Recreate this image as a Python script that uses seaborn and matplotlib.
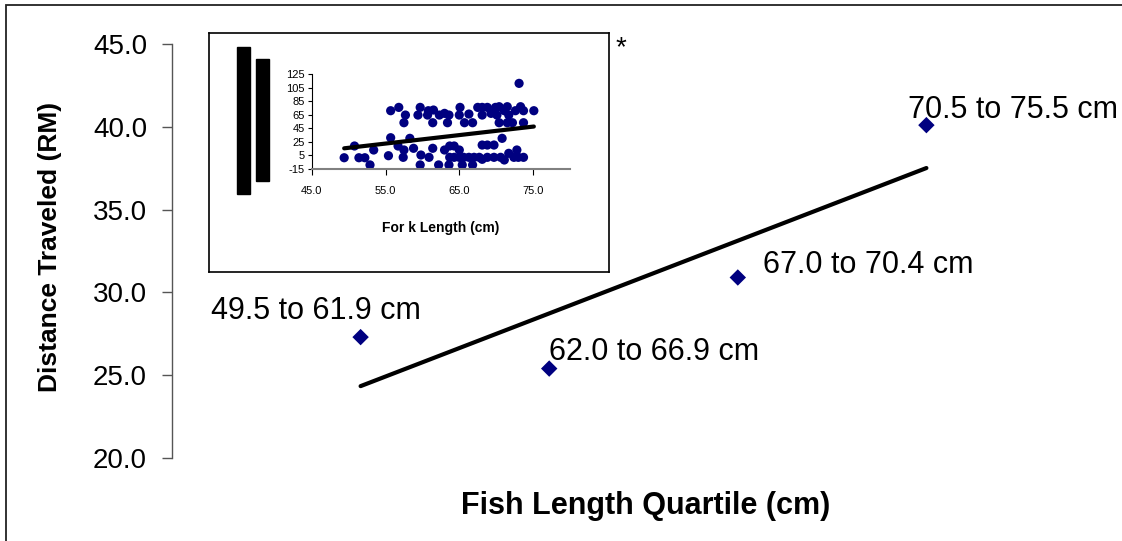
import numpy as np
import pandas as pd
import matplotlib
matplotlib.use("Agg")
import matplotlib.pyplot as plt
from matplotlib.patches import Rectangle
import seaborn as sns

# Mean distance traveled per fish-length quartile
quartile_pos = [1, 2, 3, 4]
quartile_labels = ["49.5 to 61.9 cm", "62.0 to 66.9 cm", "67.0 to 70.4 cm", "70.5 to 75.5 cm"]
mean_distance = [27.3, 25.4, 30.9, 40.1]

# Individual fish: fork length (cm) and distance traveled (RM)
fork_length = [
    49.4, 50.8, 51.4, 52.2, 52.9, 53.4, 55.4, 55.7, 55.7, 56.7, 56.8, 57.4, 57.5,
    57.5, 57.7, 58.3, 58.8, 59.4, 59.7, 59.7, 59.8, 60.7, 60.8, 60.9, 61.4, 61.4,
    61.5, 62.2, 62.3, 63.0, 63.6, 63.4, 63.0, 63.7, 64.3, 65.0, 63.7, 64.3, 65.0,
    65.6, 66.3, 67.0, 67.7, 68.8, 63.6, 65.4, 66.8, 65.1, 65.0, 66.3, 65.7, 66.8,
    67.5, 68.1, 68.8, 68.1, 69.3, 69.9, 68.1, 68.8, 69.7, 68.1, 69.7, 70.4, 71.5,
    73.3, 71.1, 72.6, 73.7, 75.1, 70.1, 71.7, 70.4, 71.5, 72.2, 73.7, 70.8, 73.1,
    70.6, 71.1, 71.7, 72.4, 72.8, 73.0, 73.7,
]
distance = [
    1.6, 18.9, 1.6, 1.6, -9.0, 13.0, 4.6, 70.9, 31.1, 18.9, 75.8, 2.2, 13.0,
    53.2, 64.5, 30.2, 15.5, 64.5, 75.8, -9.0, 5.6, 64.5, 70.9, 2.2, 53.2, 15.5,
    71.9, -9.0, 64.5, 67.0, 64.5, 53.2, 13.0, 18.9, 18.9, 13.0, 2.2, 2.2, 2.2,
    2.2, 2.2, 2.2, 2.2, 2.2, -9.0, -9.0, -9.0, 75.8, 64.5, 66.0, 53.2, 53.2,
    75.8, 75.8, 75.8, 64.5, 67.0, 75.8, 20.3, 20.3, 20.3, -0.7, 2.2, 76.8, 76.8,
    76.8, 70.9, 70.9, 70.9, 70.9, 64.5, 64.5, 53.2, 53.2, 53.2, 53.2, 30.2, 111.2,
    2.2, -1.7, 8.1, 2.2, 13.0, 2.2, 2.2,
]

main_yticks = [20, 25, 30, 35, 40, 45]
inset_yticks = [-15, 5, 25, 45, 65, 85, 105, 125]
inset_xticks = [45, 55, 65, 75]

# label offsets (pixels) from each quartile point
label_dx = [-150, 0, 25, -18]
label_dy = [26, 17, 12, 15]

quart = pd.DataFrame({"pos": quartile_pos, "dist": mean_distance, "label": quartile_labels})
fish = pd.DataFrame({"fl": fork_length, "dist": distance})

sns.set_theme(style="white")
plt.rcParams["font.family"] = ["Liberation Sans", "DejaVu Sans"]
plt.rcParams.update({"text.color": "black", "axes.labelcolor": "black",
                     "xtick.labelcolor": "black", "ytick.labelcolor": "black"})

NAVY = "#000080"
W, H = 1122, 541
fig = plt.figure(figsize=(W / 100, H / 100), dpi=100)
fig.patch.set_facecolor("white")

# outer frame (left and top edges visible)
fig.patches.append(Rectangle((6 / W, -0.2), 1.5, 1.2 - 5 / H, transform=fig.transFigure,
                             fill=False, edgecolor="#222222", linewidth=1.3))

# ---- main chart ----
ax = fig.add_axes([172 / W, (H - 458) / H, (1115 - 172) / W, (458 - 44) / H])
ax.set_facecolor("none")
sns.regplot(data=quart, x="pos", y="dist", scatter=False, ci=None, truncate=True,
            line_kws={"color": "black", "linewidth": 3}, ax=ax)
sns.scatterplot(data=quart, x="pos", y="dist", marker="D", s=70, color=NAVY,
                edgecolor="none", ax=ax, zorder=3)
for x, y, lab, dx, dy in zip(quartile_pos, mean_distance, quartile_labels, label_dx, label_dy):
    ax.annotate(lab, (x, y), xytext=(dx, dy), textcoords="offset pixels",
                ha="left", va="center", fontsize=22, color="black",
                annotation_clip=False, zorder=4)

ax.set_xlim(0, 5)
ax.set_ylim(20, 45)
ax.set_yticks(main_yticks)
ax.set_yticklabels([f"{v:.1f}" for v in main_yticks])
ax.set_xticks([])
for side in ("top", "right", "bottom"):
    ax.spines[side].set_visible(False)
ax.spines["left"].set_color("#555555")
ax.spines["left"].set_linewidth(1.0)
ax.tick_params(axis="y", direction="out", length=7, width=1.0, color="#555555",
               labelsize=20, pad=11, left=True)
ax.set_ylabel("Distance Traveled (RM)", fontsize=19, fontweight="bold")
ax.yaxis.set_label_coords(-0.117, 0.51)
ax.set_xlabel("Fish Length Quartile (cm)", fontsize=22, fontweight="bold")
ax.xaxis.set_label_coords(0.502, -0.08)

fig.text(621 / W, 1 - 48 / H, "*", fontsize=20, ha="center", va="center")

# ---- inset panel ----
box = fig.add_axes([209 / W, (H - 272) / H, 400 / W, 239 / H])
box.set_facecolor("white")
box.set_xticks([])
box.set_yticks([])
for sp in box.spines.values():
    sp.set_color("black")
    sp.set_linewidth(1.2)
box.add_patch(Rectangle((0.0708, 0.325), 0.0318, 0.615, color="black", transform=box.transAxes))
box.add_patch(Rectangle((0.1175, 0.381), 0.0333, 0.510, color="black", transform=box.transAxes))

ins = fig.add_axes([311.7 / W, (H - 169) / H, (570 - 311.7) / W, (169 - 74) / H])
ins.set_facecolor("none")
sns.scatterplot(data=fish, x="fl", y="dist", s=44, color=NAVY, edgecolor="none",
                ax=ins, zorder=2)
sns.regplot(data=fish, x="fl", y="dist", scatter=False, ci=None, truncate=True,
            line_kws={"color": "black", "linewidth": 3, "zorder": 3}, ax=ins)
ins.set_xlim(45, 80)
ins.set_ylim(-15, 125)
ins.set_xticks(inset_xticks)
ins.set_xticklabels([f"{v:.1f}" for v in inset_xticks])
ins.set_yticks(inset_yticks)
ins.set_yticklabels([str(v) for v in inset_yticks])
for side in ("top", "right"):
    ins.spines[side].set_visible(False)
ins.spines["left"].set_color("black")
ins.spines["left"].set_linewidth(0.8)
ins.spines["bottom"].set_color("#808080")
ins.spines["bottom"].set_linewidth(1.5)
ins.tick_params(axis="y", direction="out", length=3, width=0.8, labelsize=8, pad=2,
                left=True, color="black")
ins.tick_params(axis="x", direction="out", length=4, width=0.8, labelsize=8, pad=8,
                bottom=True, color="black")
ins.set_ylabel("")
ins.set_xlabel("For k Length (cm)", fontsize=10, fontweight="bold", labelpad=18)

fig.savefig("out.png", dpi=100, facecolor="white")
